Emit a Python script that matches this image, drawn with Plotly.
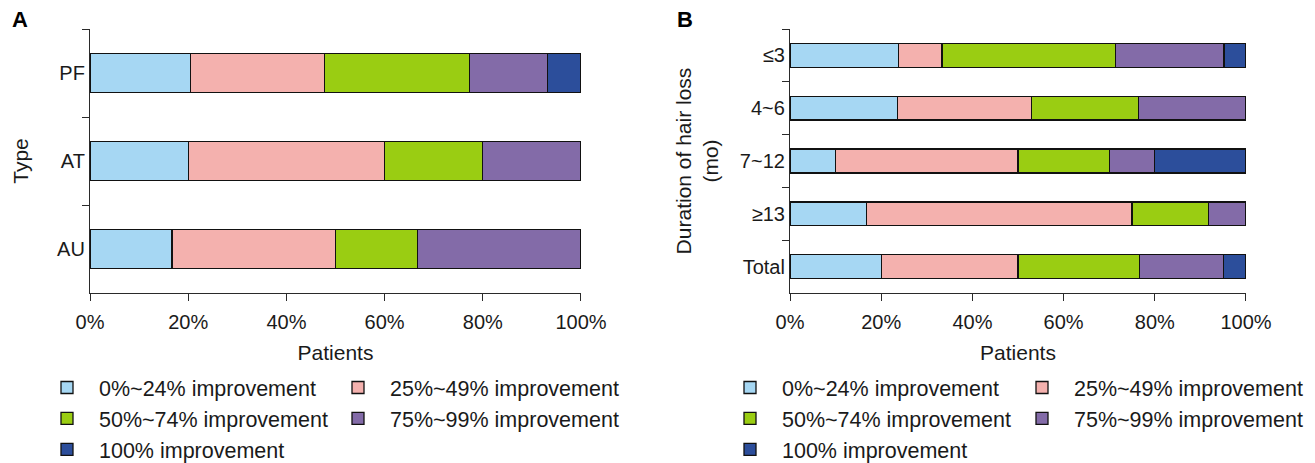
import plotly.graph_objects as go

# figure is a bit taller than the 463px window so the bottom legend row is not
# pushed up by Plotly's keep-legend-inside-figure rule; overflow is hidden.
W, H = 1315, 475

# ---- data ----
series_names = ["0%~24% improvement", "25%~49% improvement", "50%~74% improvement",
                "75%~99% improvement", "100% improvement"]
colors = ["#A6D7F3", "#F4B1AE", "#9ACD12", "#836BA8", "#2C4E9B"]

type_cats = ["PF", "AT", "AU"]
type_0_24 = [20.5, 20.0, 16.7]
type_25_49 = [27.3, 40.0, 33.3]
type_50_74 = [29.5, 20.0, 16.7]
type_75_99 = [15.9, 20.0, 33.3]
type_100 = [6.8, None, None]

dur_cats = ["≤3", "4~6", "7~12", "≥13", "Total"]
dur_0_24 = [23.8, 23.5, 10.0, 16.7, 20.0]
dur_25_49 = [9.5, 29.4, 40.0, 58.3, 30.0]
dur_50_74 = [38.1, 23.5, 20.0, 16.7, 26.7]
dur_75_99 = [23.8, 23.6, 10.0, 8.3, 18.3]
dur_100 = [4.8, None, 20.0, None, 5.0]

x_tick_vals = [0, 20, 40, 60, 80, 100]
x_tick_text = ["0%", "20%", "40%", "60%", "80%", "100%"]
# visible tick marks (minor ticks, nudged off the label ticks so both are drawn)
x_mark_vals = [0.02, 20.02, 40.02, 60.02, 80.02, 99.98]

type_series = [type_0_24, type_25_49, type_50_74, type_75_99, type_100]
dur_series = [dur_0_24, dur_25_49, dur_50_74, dur_75_99, dur_100]

FONT = "Liberation Sans, Arial, Helvetica, sans-serif"
TXT = "#1a1a1a"
AX = "#2a2a2a"

fig = go.Figure()

# legend assignment: col1 -> items 0,2,4 ; col2 -> items 1,3
colA = ["legend", "legend2", "legend", "legend2", "legend"]
colB = ["legend3", "legend4", "legend3", "legend4", "legend3"]

for i, (name, vals) in enumerate(zip(series_names, type_series)):
    fig.add_trace(go.Bar(
        y=type_cats, x=vals, orientation="h", name=name,
        marker=dict(color=colors[i], line=dict(color="#111111", width=1.3)),
        width=0.44, xaxis="x", yaxis="y", legend=colA[i],
        showlegend=True, hoverinfo="x+y+name",
    ))
for i, (name, vals) in enumerate(zip(series_names, dur_series)):
    fig.add_trace(go.Bar(
        y=dur_cats, x=vals, orientation="h", name=name,
        marker=dict(color=colors[i], line=dict(color="#111111", width=1.3)),
        width=0.45, xaxis="x2", yaxis="y2", legend=colB[i],
        showlegend=True, hoverinfo="x+y+name",
    ))


def px_x(p):
    return p / W


def px_y(p):
    return 1 - p / H


y_dom = [px_y(293), px_y(29)]

xcommon = dict(
    range=[0, 100], tickmode="array", tickvals=x_tick_vals, ticktext=x_tick_text,
    showgrid=False, zeroline=False,
    showline=True, linecolor=AX, linewidth=1.2,
    ticks="outside", ticklen=11, tickcolor="rgba(0,0,0,0)", tickwidth=1.2,
    minor=dict(tickmode="array", tickvals=x_mark_vals, ticks="outside", ticklen=7,
               tickcolor=AX, tickwidth=1.2, showgrid=False),
    tickfont=dict(size=20, color=TXT, family=FONT),
    automargin=False, fixedrange=True,
)
ycommon = dict(
    type="category", autorange="reversed", tickson="boundaries", showgrid=False,
    zeroline=False, showline=True, linecolor=AX, linewidth=1.2, ticks="outside",
    ticklen=7, tickcolor=AX, tickwidth=1.2,
    tickfont=dict(size=20, color=TXT, family=FONT), automargin=False, fixedrange=True,
)

title_font = dict(size=21, color=TXT, family=FONT)

fig.update_layout(
    width=W, height=H,
    margin=dict(l=0, r=0, t=0, b=0),
    paper_bgcolor="white", plot_bgcolor="white",
    barmode="stack",
    font=dict(family=FONT, size=20, color=TXT),
    xaxis=dict(domain=[px_x(90), px_x(581)], anchor="y",
               title=dict(text="Patients", standoff=13, font=title_font), **xcommon),
    yaxis=dict(domain=y_dom, anchor="x",
               title=dict(text="Type", standoff=22, font=title_font), **ycommon),
    xaxis2=dict(domain=[px_x(790), px_x(1246)], anchor="y2",
                title=dict(text="Patients", standoff=13, font=title_font), **xcommon),
    yaxis2=dict(domain=y_dom, anchor="x2",
                title=dict(text="Duration of hair loss<br>(mo)", standoff=15,
                           font=title_font), **ycommon),
)

leg_common = dict(orientation="v", traceorder="normal", itemwidth=54,
                  font=dict(size=21.5, color=TXT, family=FONT),
                  bgcolor="rgba(0,0,0,0)", borderwidth=0, xanchor="left", yanchor="top",
                  itemclick=False, itemdoubleclick=False)
LEG_TOP = 367
fig.update_layout(
    legend=dict(x=px_x(35), y=px_y(LEG_TOP), **leg_common),
    legend2=dict(x=px_x(326), y=px_y(LEG_TOP), **leg_common),
    legend3=dict(x=px_x(718), y=px_y(LEG_TOP), **leg_common),
    legend4=dict(x=px_x(1010), y=px_y(LEG_TOP), **leg_common),
)

fig.add_annotation(text="<b>A</b>", x=px_x(20), y=px_y(5), xref="paper", yref="paper",
                   showarrow=False, font=dict(size=22, color="black", family=FONT),
                   xanchor="center", yanchor="top")
fig.add_annotation(text="<b>B</b>", x=px_x(685), y=px_y(5), xref="paper", yref="paper",
                   showarrow=False, font=dict(size=22, color="black", family=FONT),
                   xanchor="center", yanchor="top")

# remove the browser's default 8px body margin so the figure fills the window
fig.write_html(
    "out.html",
    config={"displayModeBar": False},
    post_script="document.body.style.margin='0';document.body.style.overflow='hidden';",
)
